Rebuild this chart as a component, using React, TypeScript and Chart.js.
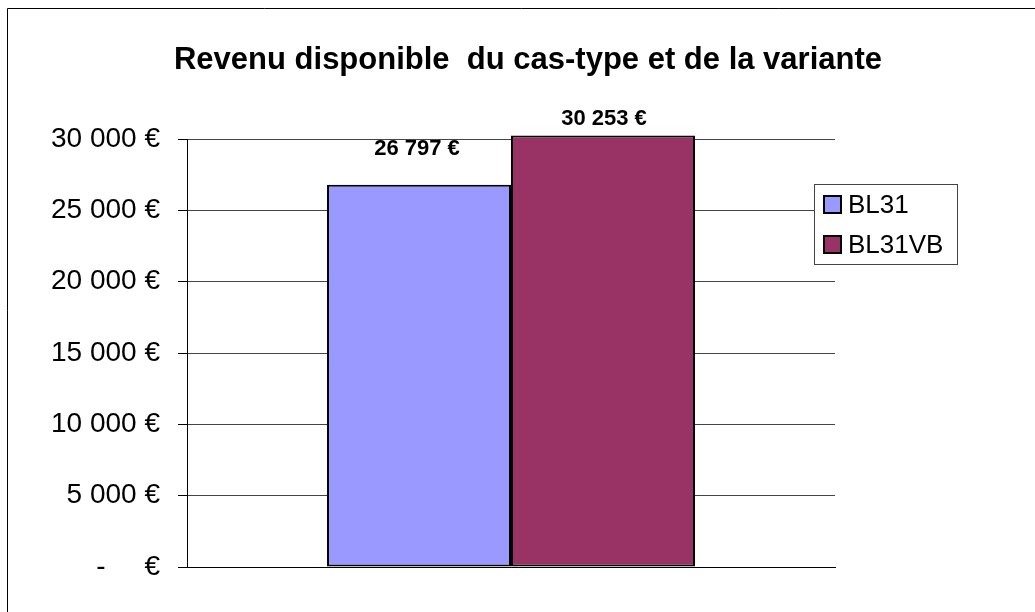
import React, { useEffect, useRef } from "react";
import { Chart, registerables } from "chart.js";

Chart.register(...registerables);

const categories = [""];
const seriesNames = ["BL31", "BL31VB"];
const bl31Values = [26797];
const bl31vbValues = [30253];
const seriesColors = ["#9999FF", "#993366"];
const yTicks = [0, 5000, 10000, 15000, 20000, 25000, 30000];
const chartTitle = "Revenu disponible  du cas-type et de la variante";

const FONT = "Arial, 'Liberation Sans', sans-serif";

function fmt(v: number): string {
  if (v === 0) return "-     €";
  const s = Math.round(v).toString().replace(/\B(?=(\d{3})+(?!\d))/g, " ");
  return s + " €";
}

export default function App() {
  const ref = useRef<HTMLCanvasElement | null>(null);
  useEffect(() => {
    if (!ref.current) return;
    const labelOffsets = [36, 16];
    const labelShiftX = [-2, 1];
    const overlay = {
      id: "overlay",
      beforeDraw(chart: any) {
        const ctx = chart.ctx;
        ctx.save();
        ctx.fillStyle = "#fff";
        ctx.fillRect(0, 0, chart.width, chart.height);
        ctx.strokeStyle = "#000";
        ctx.lineWidth = 1;
        ctx.beginPath();
        ctx.moveTo(7.5, chart.height);
        ctx.lineTo(7.5, 8.5);
        ctx.lineTo(chart.width, 8.5);
        ctx.stroke();
        ctx.restore();
      },
      afterDraw(chart: any) {
        const ctx = chart.ctx;
        ctx.save();
        // title
        ctx.fillStyle = "#000";
        ctx.font = "bold 31px " + FONT;
        ctx.textAlign = "center";
        ctx.textBaseline = "middle";
        ctx.fillText(chartTitle, 528, 60);
        // data labels
        ctx.font = "bold 22px " + FONT;
        chart.data.datasets.forEach((ds: any, i: number) => {
          const meta = chart.getDatasetMeta(i);
          meta.data.forEach((bar: any, j: number) => {
            ctx.fillText(fmt(ds.data[j]), bar.x + labelShiftX[i], bar.y - labelOffsets[i]);
          });
        });
        // legend
        const lx = 814, ly = 184, lw = 143, lh = 80;
        ctx.fillStyle = "#fff";
        ctx.fillRect(lx, ly, lw, lh);
        ctx.strokeStyle = "#444";
        ctx.lineWidth = 1;
        ctx.strokeRect(lx + 0.5, ly + 0.5, lw, lh);
        ctx.font = "26px " + FONT;
        ctx.textAlign = "left";
        seriesNames.forEach((name, i) => {
          const cy = 205 + i * 40;
          ctx.fillStyle = seriesColors[i];
          ctx.fillRect(824, cy - 9, 17, 17);
          ctx.strokeStyle = "#000";
          ctx.lineWidth = 2;
          ctx.strokeRect(824, cy - 9, 17, 17);
          ctx.fillStyle = "#000";
          ctx.fillText(name, 848, cy + 1);
        });
        ctx.restore();
      },
    };
    const chart = new Chart(ref.current, {
      type: "bar",
      data: {
        labels: categories,
        datasets: [
          {
            label: seriesNames[0],
            data: bl31Values,
            backgroundColor: seriesColors[0],
            borderColor: "#000",
            borderWidth: 2,
            borderSkipped: false,
            clip: false,
          },
          {
            label: seriesNames[1],
            data: bl31vbValues,
            backgroundColor: seriesColors[1],
            borderColor: "#000",
            borderWidth: 2,
            borderSkipped: false,
            clip: false,
          },
        ],
      },
      options: {
        responsive: false,
        animation: false,
        layout: { padding: { top: 139, left: 0, right: 200, bottom: 45 } },
        datasets: { bar: { categoryPercentage: 368 / 648, barPercentage: 1 } },
        plugins: {
          legend: { display: false },
          title: { display: false },
          tooltip: { enabled: false },
        },
        scales: {
          x: {
            grid: { display: false },
            border: { display: true, color: "#000", width: 1 },
            ticks: { display: false },
            afterFit(scale: any) {
              scale.height = 0;
            },
          },
          y: {
            min: 0,
            max: 30000,
            afterBuildTicks(scale: any) {
              scale.ticks = yTicks.map((v) => ({ value: v }));
            },
            grid: { color: "#444", lineWidth: 1, tickLength: 9, drawTicks: true, tickColor: "#000" },
            border: { display: true, color: "#000", width: 1 },
            ticks: {
              padding: 18,
              color: "#000",
              font: { family: FONT, size: 28 },
              callback: (v: any) => fmt(Number(v)),
            },
            afterFit(scale: any) {
              scale.width = 187;
            },
          },
        },
      },
      plugins: [overlay],
    });
    return () => chart.destroy();
  }, []);
  return (
    <canvas
      ref={ref}
      width={1035}
      height={612}
      style={{ display: "block", position: "fixed", left: 0, top: 0 }}
    />
  );
}
